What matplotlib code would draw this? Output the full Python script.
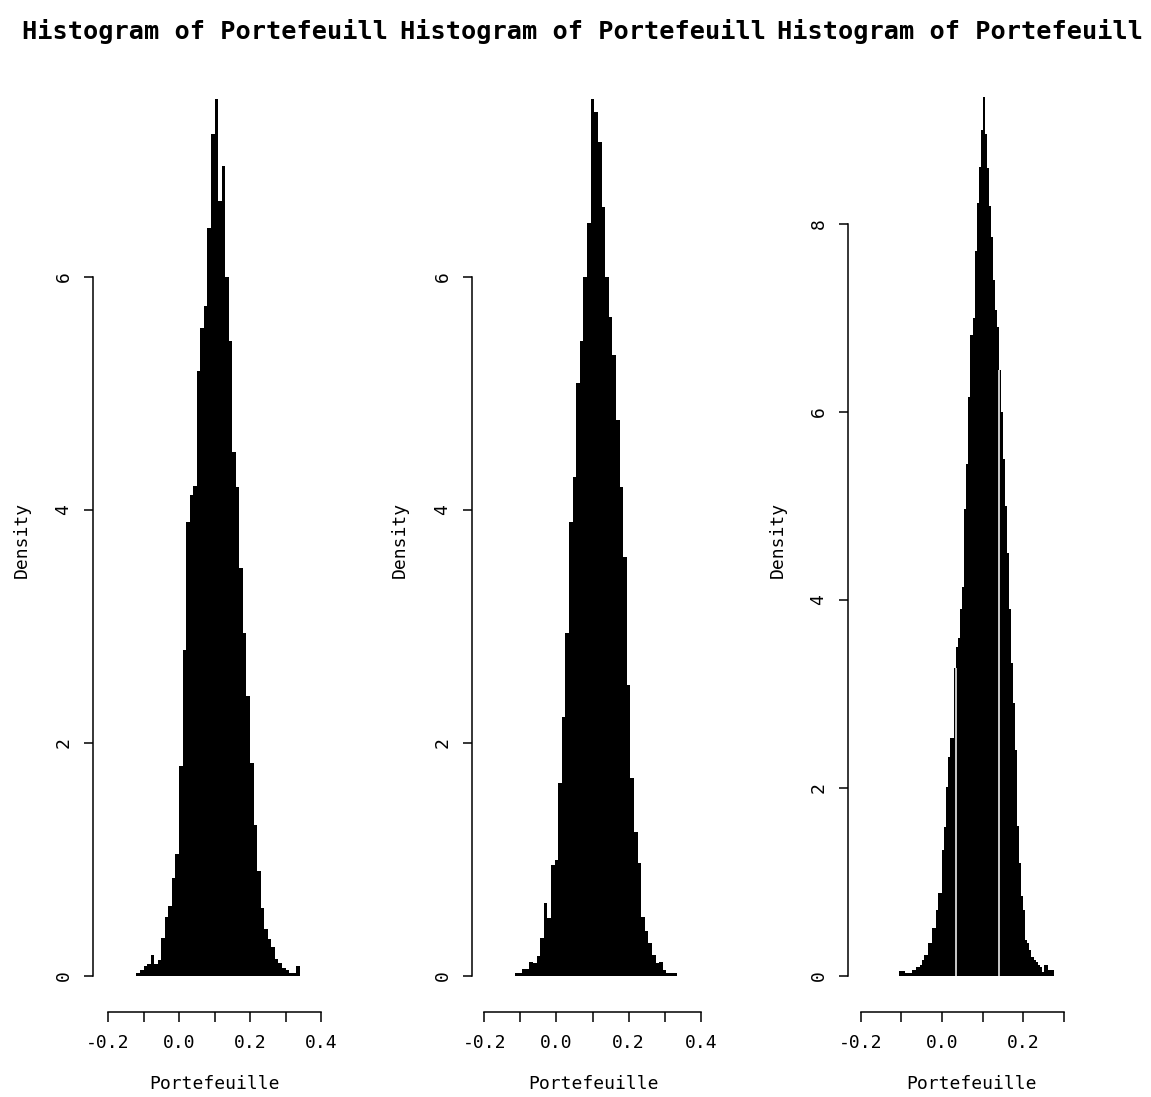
import matplotlib
matplotlib.use("Agg")
import matplotlib.pyplot as plt
import numpy as np

# Densities per bin, left to right (bin start, bin width, heights)
p1_start, p1_width = -0.12, 0.01
p1_density = [0.03, 0.05, 0.09, 0.10, 0.18, 0.10, 0.14, 0.33, 0.51, 0.60,
              0.84, 1.05, 1.80, 2.80, 3.90, 4.13, 4.21, 5.19, 5.56, 5.75,
              6.42, 7.23, 7.53, 6.65, 6.95, 6.00, 5.45, 4.50, 4.20, 3.50,
              2.94, 2.40, 1.83, 1.30, 0.90, 0.58, 0.40, 0.32, 0.25, 0.15,
              0.11, 0.07, 0.05, 0.03, 0.03, 0.09]

p2_start, p2_width = -0.115, 0.01
p2_density = [0.03, 0.03, 0.06, 0.06, 0.12, 0.11, 0.17, 0.33, 0.63, 0.50,
              0.95, 1.00, 1.66, 2.22, 2.94, 3.90, 4.28, 5.09, 5.45, 6.00,
              6.46, 7.53, 7.42, 7.16, 6.60, 6.00, 5.66, 5.33, 4.77, 4.20,
              3.60, 2.50, 1.70, 1.24, 0.97, 0.51, 0.39, 0.28, 0.18, 0.11,
              0.12, 0.05, 0.03, 0.03, 0.03]

p3_start, p3_width = -0.105, 0.005
p3_density = [0.05, 0.05, 0.05, 0.03, 0.03, 0.03, 0.06, 0.06, 0.10, 0.10,
              0.12, 0.17, 0.22, 0.22, 0.35, 0.35, 0.51, 0.51, 0.70, 0.88,
              0.88, 1.34, 1.59, 2.01, 2.33, 2.53, 2.53, 3.28, 3.50, 3.60,
              3.90, 4.14, 4.97, 5.45, 6.16, 6.82, 7.00, 7.71, 8.22, 8.61,
              9.00, 9.35, 8.96, 8.60, 8.19, 7.86, 7.40, 7.09, 6.90, 6.45,
              6.00, 5.50, 5.00, 4.50, 3.90, 3.33, 2.90, 2.40, 1.60, 1.20,
              0.85, 0.70, 0.38, 0.35, 0.28, 0.20, 0.17, 0.15, 0.12, 0.10,
              0.04, 0.12, 0.12, 0.06, 0.06, 0.06]
# bin edges where the fill shows a thin white seam
p3_seams = [0.035, 0.14]

xticks_a = [-0.2, -0.1, 0.0, 0.1, 0.2, 0.3, 0.4]
xlabels_a = ["-0.2", "", "0.0", "", "0.2", "", "0.4"]
xticks_b = [-0.2, -0.1, 0.0, 0.1, 0.2, 0.3]
xlabels_b = ["-0.2", "", "0.0", "", "0.2", ""]
yticks_a = [0, 2, 4, 6]
yticks_b = [0, 2, 4, 6, 8]

title = "Histogram of Portefeuill"
xname = "Portefeuille"
yname = "Density"

W, H = 1151, 1097
fig = plt.figure(figsize=(W / 100, H / 100), dpi=100)
mono = "DejaVu Sans Mono"
PT = 0.72  # points per pixel at dpi 100
BASE = 976  # pixel row of density 0

panels = [
    dict(start=p1_start, width=p1_width, dens=p1_density, seams=[],
         px=(108, 321), xlim=(-0.2, 0.4), ytop=8, yscale=116.5,
         xt=xticks_a, xl=xlabels_a, yt=yticks_a, spine=93,
         tx=22, yl=22, xlc=215),
    dict(start=p2_start, width=p2_width, dens=p2_density, seams=[],
         px=(484.3, 700.7), xlim=(-0.2, 0.4), ytop=8, yscale=116.5,
         xt=xticks_a, xl=xlabels_a, yt=yticks_a, spine=472,
         tx=400, yl=400, xlc=593),
    dict(start=p3_start, width=p3_width, dens=p3_density, seams=p3_seams,
         px=(860.7, 1064), xlim=(-0.2, 0.3), ytop=10, yscale=94,
         xt=xticks_b, xl=xlabels_b, yt=yticks_b, spine=848,
         tx=777, yl=778, xlc=972),
]

for p in panels:
    x0, x1 = p["px"]
    hpx = p["ytop"] * p["yscale"]
    ax = fig.add_axes([x0 / W, (H - BASE) / H, (x1 - x0) / W, hpx / H])
    ax.patch.set_visible(False)
    ax.set_xlim(*p["xlim"])
    ax.set_ylim(0, p["ytop"])

    dens = np.array(p["dens"])
    edges = p["start"] + p["width"] * np.arange(len(dens) + 1)
    ax.stairs(dens, edges, fill=True, color="black", linewidth=0)

    for s in p["seams"]:
        k = int(round((s - p["start"]) / p["width"]))
        top = min(dens[k - 1], dens[k])
        ax.vlines(s, 0, top, color="white", linewidth=1.1)

    for side in ("top", "right"):
        ax.spines[side].set_visible(False)
    ax.spines["left"].set_position(("outward", (x0 - p["spine"]) * PT))
    ax.spines["bottom"].set_position(("outward", 36 * PT))
    ax.spines["left"].set_bounds(p["yt"][0], p["yt"][-1])
    ax.spines["bottom"].set_bounds(p["xt"][0], p["xt"][-1])
    for side in ("left", "bottom"):
        ax.spines[side].set_linewidth(1.1)

    ax.set_xticks(p["xt"])
    ax.set_xticklabels(p["xl"], fontfamily=mono, fontsize=13)
    ax.set_yticks(p["yt"])
    ax.set_yticklabels([str(v) for v in p["yt"]], fontfamily=mono,
                       fontsize=13, rotation=90, va="center")
    ax.tick_params(direction="out", length=9.5 * PT, width=1.1,
                   colors="black")
    ax.tick_params(axis="x", pad=9)
    ax.tick_params(axis="y", pad=8)

    fig.text(p["tx"] / W, 1 - 39 / H, title, fontfamily=mono,
             fontweight="bold", fontsize=18.2, ha="left", va="baseline")
    fig.text(p["yl"] / W, 1 - 540 / H, yname, fontfamily=mono,
             fontsize=13, rotation=90, ha="center", va="center")
    fig.text(p["xlc"] / W, 1 - 1084 / H, xname, fontfamily=mono,
             fontsize=13, ha="center", va="center")

fig.savefig("out.png", dpi=100)
